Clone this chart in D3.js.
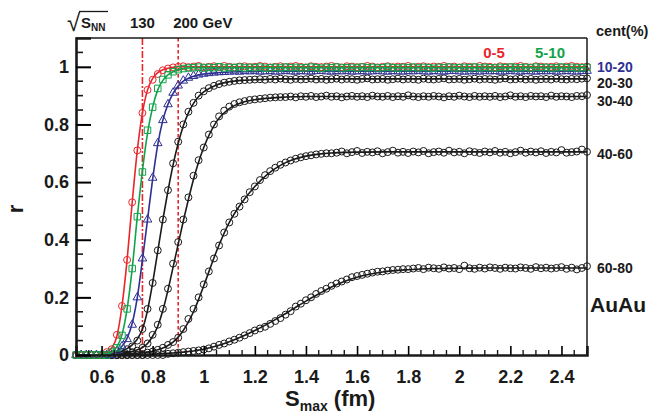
<!DOCTYPE html>
<html>
<head>
<meta charset="utf-8">
<script src="https://cdn.jsdelivr.net/npm/d3@7"></script>
<style>
  body { margin: 0; background: #fff; }
  svg { font-family: "Liberation Sans", Arial, sans-serif; font-weight: bold; }
</style>
</head>
<body>
<div id="container"></div>
<script>
/* CONSTANTS AND GLOBALS */
const width = 653,
  height = 413,
  margin = { top: 38, bottom: 58, left: 76, right: 66 };

/* DATA */
// markers: S_max from 0.5 to 2.5 fm in steps of 0.02
const sMaxStart = 0.5, sMaxStep = 0.02;

const r05 = [0,0,0,0,0,0,
  0.01,0.02,0.07,0.17,0.33,0.53,0.71,0.84,0.92,0.955,0.975,0.988,0.994,0.998,1.0,
  1.002,0.999,1.001,1.003,0.998,1.0,1.002,0.999,1.003,1.0,
  0.998,1.001,1.002,0.999,1.0,1.003,1.001,0.998,1.0,1.002,
  0.999,1.001,1.003,1.0,0.998,1.002,1.0,0.999,1.001,1.003,
  1.0,0.998,1.002,1.001,0.999,1.0,1.003,1.001,0.998,1.0,
  1.002,0.999,1.001,1.0,1.003,0.998,1.0,1.002,0.999,1.001,
  1.0,1.003,0.999,1.001,0.998,1.002,1.0,0.999,1.003,1.001,
  1.0,0.998,1.002,1.0,0.999,1.001,1.003,1.0,0.998,1.002,
  1.001,0.999,1.0,1.002,0.998,1.001,1.003,1.0,0.999,1.001];

const r510 = [0,0,0,0,0,0,0,
  0.01,0.025,0.068,0.16,0.30,0.48,0.635,0.78,0.86,0.925,0.956,0.972,0.983,0.99,0.994,0.996,
  0.997,0.999,0.996,0.998,0.997,1.0,0.996,0.998,0.997,0.999,
  0.996,0.998,0.997,0.999,0.995,0.997,0.998,0.996,0.999,0.997,
  0.998,0.996,0.997,0.999,0.997,0.995,0.998,0.997,0.999,0.996,
  0.997,0.998,0.996,0.999,0.997,0.998,0.996,0.997,0.999,0.997,
  0.996,0.998,0.997,0.999,0.996,0.998,0.997,0.995,0.998,0.997,
  0.999,0.996,0.997,0.998,0.997,0.999,0.996,0.998,0.997,0.996,
  0.998,0.997,0.999,0.996,0.997,0.998,0.996,0.999,0.997,0.998,
  0.996,0.997,0.999,0.997,0.998,0.996,0.997,0.998];

const r1020 = [0,0,0,0,0,0,0,0,
  0.015,0.03,0.055,0.105,0.20,0.335,0.47,0.615,0.735,0.815,0.87,0.91,0.935,0.952,0.962,0.968,
  0.973,0.976,0.978,0.98,0.981,0.982,0.983,
  0.984,0.983,0.985,0.984,0.986,0.983,0.984,0.985,0.983,0.984,
  0.986,0.984,0.983,0.985,0.984,0.983,0.985,0.986,0.984,0.983,
  0.985,0.984,0.986,0.983,0.984,0.985,0.983,0.984,0.986,0.984,
  0.983,0.985,0.984,0.983,0.985,0.984,0.986,0.984,0.983,0.985,
  0.984,0.983,0.985,0.986,0.984,0.983,0.984,0.985,0.983,0.986,
  0.984,0.985,0.983,0.984,0.986,0.984,0.983,0.985,0.984,0.983,
  0.985,0.984,0.986,0.983,0.984,0.985,0.984,0.983,0.985,0.986];

const r2030 = [0,0,0,0,0,0,0,0,0,
  0.01,0.02,0.03,0.05,0.09,0.16,0.25,0.363,0.47,0.572,0.665,0.74,0.80,0.844,0.875,0.90,
  0.915,0.926,0.934,0.94,0.945,0.948,0.951,0.953,0.954,0.955,0.956,
  0.957,0.955,0.958,0.956,0.959,0.957,0.955,0.958,0.956,0.957,
  0.959,0.956,0.958,0.955,0.957,0.959,0.956,0.958,0.957,0.955,
  0.958,0.960,0.956,0.957,0.958,0.955,0.957,0.959,0.956,0.958,
  0.957,0.955,0.959,0.957,0.956,0.958,0.960,0.956,0.957,0.958,
  0.955,0.957,0.959,0.956,0.958,0.957,0.955,0.958,0.960,0.956,
  0.957,0.959,0.956,0.958,0.955,0.957,0.958,0.956,0.959,0.957,
  0.956,0.958,0.957,0.959,0.960];

const r3040 = [0,0,0,0,0,0,0,0,0,0,0,
  0.01,0.015,0.025,0.04,0.07,0.105,0.16,0.23,0.317,0.392,0.47,0.547,0.622,0.676,0.72,
  0.765,0.80,0.828,0.848,0.862,0.871,0.877,0.881,0.885,0.887,0.889,0.891,0.893,0.894,0.895,
  0.895,0.897,0.894,0.898,0.896,0.899,0.895,0.897,0.900,0.896,
  0.898,0.894,0.897,0.899,0.896,0.898,0.895,0.900,0.897,0.896,
  0.899,0.895,0.898,0.896,0.901,0.897,0.895,0.898,0.896,0.899,
  0.897,0.894,0.898,0.896,0.900,0.897,0.895,0.899,0.896,0.898,
  0.896,0.899,0.895,0.897,0.901,0.896,0.898,0.895,0.899,0.897,
  0.898,0.895,0.900,0.896,0.898,0.897,0.895,0.899,0.898,0.902];

const r4060 = [0,0,0,0,0,0,0,0,0,0,0,0,0,0,
  0.008,0.012,0.018,0.025,0.035,0.045,0.06,0.09,0.125,0.16,0.20,0.245,0.29,0.335,0.38,0.425,
  0.46,0.49,0.515,0.54,0.565,0.585,0.607,0.624,0.638,0.65,0.66,0.668,0.675,0.681,0.686,0.69,
  0.693,0.696,0.698,0.70,0.70,
  0.702,0.706,0.700,0.704,0.708,0.701,0.705,0.703,0.707,0.700,
  0.704,0.709,0.702,0.705,0.701,0.706,0.703,0.708,0.700,0.704,
  0.706,0.702,0.709,0.703,0.705,0.700,0.707,0.704,0.701,0.706,
  0.703,0.708,0.702,0.705,0.700,0.704,0.709,0.702,0.706,0.703,
  0.707,0.701,0.705,0.703,0.711,0.702,0.704,0.706,0.713,0.705];

const r6080 = [0,0,0,0,0,0,0,0,0,0,0,0,0,0,0,0,0,0,
  0.004,0.006,0.008,0.01,0.012,0.014,0.016,0.019,0.023,0.029,
  0.035,0.04,0.047,0.053,0.06,0.068,0.076,0.085,0.092,0.098,
  0.108,0.118,0.128,0.14,0.152,0.168,0.178,0.19,0.2,0.212,
  0.222,0.23,0.24,0.248,0.255,0.262,0.27,0.274,0.278,0.282,
  0.286,0.289,0.29,0.293,0.295,0.296,0.298,0.298,
  0.300,0.302,0.298,0.303,0.301,0.299,0.304,0.300,0.302,0.298,
  0.310,0.301,0.299,0.303,0.300,0.304,0.302,0.299,0.303,0.301,
  0.300,0.304,0.302,0.299,0.305,0.301,0.303,0.300,0.302,0.305,
  0.299,0.303,0.297,0.302,0.308];

// fit curves, sampled on their own S_max grid
const fitX = [0.5,0.55,0.6,0.62,0.64,0.66,0.68,0.7,0.72,0.74,0.76,0.78,0.8,0.82,0.84,0.86,0.88,0.9,0.92,0.94,0.96,0.98,1.0,
  1.05,1.1,1.15,1.2,1.25,1.3,1.35,1.4,1.45,1.5,1.55,1.6,1.7,1.8,1.9,2.0,2.1,2.2,2.3,2.4,2.5];

const fit05 = [0,0,0.003,0.01,0.025,0.065,0.17,0.33,0.53,0.71,0.84,0.92,0.96,0.98,0.99,0.995,0.998,
  1,1,1,1,1,1,1,1,1,1,1,1,1,1,1,1,1,1,1,1,1,1,1,1,1,1,1];
const fit510 = [0,0,0.001,0.004,0.01,0.028,0.07,0.16,0.30,0.48,0.64,0.77,0.86,0.92,0.953,0.972,0.983,0.99,0.994,0.996,
  0.997,0.997,0.997,0.997,0.997,0.997,0.997,0.997,0.997,0.997,0.997,0.997,0.997,0.997,0.997,0.997,0.997,0.997,0.997,0.997,0.997,0.997,0.997,0.997];
const fit1020 = [0,0,0,0.002,0.006,0.014,0.03,0.058,0.11,0.20,0.33,0.47,0.61,0.73,0.815,0.87,0.908,0.933,0.95,0.96,0.967,0.972,0.975,
  0.979,0.982,0.983,0.984,
  0.985,0.985,0.985,0.985,0.985,0.985,0.985,0.985,0.985,0.985,0.985,0.985,0.985,0.985,0.985,0.985,0.985];
const fit2030 = [0,0,0.001,0.002,0.004,0.008,0.014,0.022,0.035,0.055,0.09,0.155,0.25,0.36,0.47,0.57,0.66,0.735,0.795,0.84,0.873,0.897,0.913,
  0.937,0.948,0.953,0.955,0.957,
  0.958,0.958,0.958,0.958,0.958,0.958,0.958,0.958,0.958,0.958,0.958,0.958,0.958,0.958,0.958,0.958];
const fit3040 = [0,0,0.001,0.002,0.003,0.004,0.006,0.009,0.012,0.018,0.026,0.04,0.065,0.10,0.155,0.225,0.305,0.385,0.465,0.54,0.61,0.67,0.72,
  0.81,0.855,0.876,0.886,0.891,0.894,0.896,
  0.897,0.897,0.897,0.897,0.897,0.897,0.897,0.897,0.897,0.897,0.897,0.897,0.897,0.897];
const fit4060 = [0,0,0,0.001,0.001,0.002,0.003,0.004,0.005,0.006,0.008,0.01,0.013,0.018,0.024,0.033,0.045,0.062,0.085,0.115,0.15,0.193,0.24,
  0.36,0.46,0.53,0.585,0.628,0.658,0.678,0.69,0.697,0.701,0.703,0.704,
  0.705,0.705,0.705,0.705,0.705,0.705,0.705,0.705,0.705];
const fit6080 = [0,0,0,0,0,0,0.001,0.001,0.001,0.002,0.002,0.003,0.003,0.004,0.005,0.006,0.007,0.008,0.01,0.012,0.014,0.017,0.02,
  0.031,0.046,0.064,0.085,0.108,0.133,0.16,0.187,0.212,0.236,0.255,0.27,
  0.288,0.296,0.30,0.301,0.302,0.302,0.302,0.302,0.302];

const centLabels = ["0-5", "5-10", "10-20", "20-30", "30-40", "40-60", "60-80"];
const energies = [{ label: "130", s: 0.76 }, { label: "200 GeV", s: 0.9 }];
const xTicks = [0.6, 0.8, 1, 1.2, 1.4, 1.6, 1.8, 2, 2.2, 2.4];
const yTicks = [0, 0.2, 0.4, 0.6, 0.8, 1];

const red = "#e8262b", green = "#11a34a", blue = "#2e3192", black = "#1a1a1a";

// labelY: where the right-hand label sits (in r units)
const series = [
  { cent: "60-80", r: r6080, fit: fit6080, color: black, shape: d3.symbolCircle, size: 38, labelY: 0.305 },
  { cent: "40-60", r: r4060, fit: fit4060, color: black, shape: d3.symbolCircle, size: 38, labelY: 0.70 },
  { cent: "30-40", r: r3040, fit: fit3040, color: black, shape: d3.symbolCircle, size: 38, labelY: 0.884 },
  { cent: "20-30", r: r2030, fit: fit2030, color: black, shape: d3.symbolCircle, size: 38, labelY: 0.946 },
  { cent: "10-20", r: r1020, fit: fit1020, color: blue, shape: d3.symbolTriangle, size: 32, labelY: 1.003 },
  { cent: "0-5", r: r05, fit: fit05, color: red, shape: d3.symbolCircle, size: 38 },
  { cent: "5-10", r: r510, fit: fit510, color: green, shape: d3.symbolSquare, size: 42 },
];

/* SCALES */
const xScale = d3.scaleLinear().domain([0.5, 2.5]).range([margin.left, width - margin.right]);
const yScale = d3.scaleLinear().domain([0, 1.1]).range([height - margin.bottom, margin.top]);

const svg = d3.select("#container")
  .append("svg")
  .attr("width", width)
  .attr("height", height);

const sOf = i => sMaxStart + sMaxStep * i;

// vertical energy lines
svg.selectAll("line.energy")
  .data(energies)
  .join("line")
  .attr("class", "energy")
  .attr("x1", d => xScale(d.s)).attr("x2", d => xScale(d.s))
  .attr("y1", yScale(1.1)).attr("y2", yScale(0))
  .attr("stroke", red)
  .attr("stroke-width", 1.6)
  .attr("stroke-dasharray", (d, i) => i === 0 ? "7,2,2,2" : "3.5,2.5");

// fits
const line = d3.line()
  .x((d, i) => xScale(fitX[i]))
  .y(d => yScale(d))
  .curve(d3.curveMonotoneX);

const groups = svg.selectAll("g.series")
  .data(series)
  .join("g")
  .attr("class", "series");

groups.append("path")
  .attr("d", d => line(d.fit))
  .attr("fill", "none")
  .attr("stroke", d => d.color)
  .attr("stroke-width", 1.6);

groups.each(function (s) {
  d3.select(this).selectAll("path.mk")
    .data(s.r)
    .join("path")
    .attr("class", "mk")
    .attr("transform", (d, i) => `translate(${xScale(sOf(i))},${yScale(d)})`)
    .attr("d", d3.symbol().type(s.shape).size(s.size))
    .attr("fill", "none")
    .attr("stroke", s.color)
    .attr("stroke-width", 1);
});

/* AXES */
const x0 = margin.left, x1 = width - margin.right, y0 = height - margin.bottom, y1 = margin.top;

// frame
svg.append("line").attr("x1", x0).attr("x2", x1).attr("y1", y1).attr("y2", y1).attr("stroke", black).attr("stroke-width", 1.5);
svg.append("line").attr("x1", x1).attr("x2", x1).attr("y1", y1).attr("y2", y0).attr("stroke", black).attr("stroke-width", 1.5);

const xAxis = d3.axisBottom(xScale)
  .tickValues(xTicks)
  .tickSize(-9)
  .tickPadding(15)
  .tickFormat(d3.format("~g"));

const gx = svg.append("g")
  .attr("transform", `translate(0,${y0})`)
  .call(xAxis);
gx.selectAll(".tick text").attr("font-size", 18).attr("font-weight", "bold").attr("fill", black).attr("font-family", "Liberation Sans, Arial, sans-serif");
gx.selectAll(".tick line").attr("stroke-width", 1.6);

const xMinor = d3.range(0, 41).map(i => 0.5 + 0.05 * i).filter(v => !xTicks.some(t => Math.abs(t - v) < 1e-6));
gx.selectAll("line.minor")
  .data(xMinor)
  .join("line")
  .attr("class", "minor")
  .attr("x1", d => xScale(d)).attr("x2", d => xScale(d))
  .attr("y1", 0).attr("y2", -5)
  .attr("stroke", black).attr("stroke-width", 1.4);

const yAxis = d3.axisLeft(yScale)
  .tickValues(yTicks)
  .tickSize(-15)
  .tickPadding(7)
  .tickFormat(d3.format("~g"));

const gy = svg.append("g")
  .attr("transform", `translate(${x0},0)`)
  .call(yAxis);
gy.selectAll(".tick text").attr("font-size", 18).attr("font-weight", "bold").attr("fill", black).attr("font-family", "Liberation Sans, Arial, sans-serif");
gy.selectAll(".tick line").attr("stroke-width", 2);

const yMinor = d3.range(1, 22).map(i => 0.05 * i).filter(v => !yTicks.some(t => Math.abs(t - v) < 1e-6));
gy.selectAll("line.minor")
  .data(yMinor)
  .join("line")
  .attr("class", "minor")
  .attr("x1", 0).attr("x2", 7)
  .attr("y1", d => yScale(d)).attr("y2", d => yScale(d))
  .attr("stroke", black).attr("stroke-width", 1.6);

svg.selectAll(".domain").attr("stroke", black).attr("stroke-width", 2.6);

/* TEXT */
svg.append("text")
  .attr("transform", `translate(23, 209) rotate(-90)`)
  .attr("text-anchor", "middle")
  .attr("font-size", 22)
  .attr("fill", black)
  .text("r");

const xt = svg.append("text")
  .attr("x", 285)
  .attr("y", 406)
  .attr("font-size", 22)
  .attr("fill", black);
xt.append("tspan").text("S");
xt.append("tspan").attr("font-size", 14).attr("dy", 5).text("max");
xt.append("tspan").attr("dy", -5).text(" (fm)");

// sqrt(s_NN) header
const hd = svg.append("g").attr("fill", black);
hd.append("text").attr("x", 67).attr("y", 31).attr("font-size", 24).attr("font-weight", "normal").text("\u221A");
hd.append("line").attr("x1", 79).attr("x2", 108).attr("y1", 11.5).attr("y2", 11.5).attr("stroke", black).attr("stroke-width", 1.3);
const sn = hd.append("text").attr("x", 81).attr("y", 28).attr("font-size", 15);
sn.append("tspan").text("S");
sn.append("tspan").attr("font-size", 10).attr("dy", 3).text("NN");

svg.selectAll("text.energy")
  .data(energies)
  .join("text")
  .attr("class", "energy")
  .attr("x", (d, i) => i === 0 ? xScale(d.s) : xScale(d.s) - 5)
  .attr("y", 28)
  .attr("text-anchor", (d, i) => i === 0 ? "middle" : "start")
  .attr("font-size", 15)
  .attr("fill", black)
  .text(d => d.label);

svg.append("text").attr("x", 596).attr("y", 36).attr("font-size", 14.5).attr("fill", black).text("cent(%)");

// centrality labels
svg.append("text").attr("x", 494).attr("y", 58).attr("text-anchor", "middle").attr("font-size", 15).attr("fill", red).text(centLabels[0]);
svg.append("text").attr("x", 550).attr("y", 58).attr("text-anchor", "middle").attr("font-size", 15).attr("fill", green).text(centLabels[1]);

svg.selectAll("text.cent")
  .data(series.filter(d => d.labelY !== undefined))
  .join("text")
  .attr("class", "cent")
  .attr("x", 597)
  .attr("y", d => yScale(d.labelY) + 6)
  .attr("font-size", 14)
  .attr("fill", d => d.color)
  .text(d => d.cent);

svg.append("text").attr("x", 590).attr("y", 312).attr("font-size", 21).attr("fill", black).text("AuAu");
</script>
</body>
</html>
